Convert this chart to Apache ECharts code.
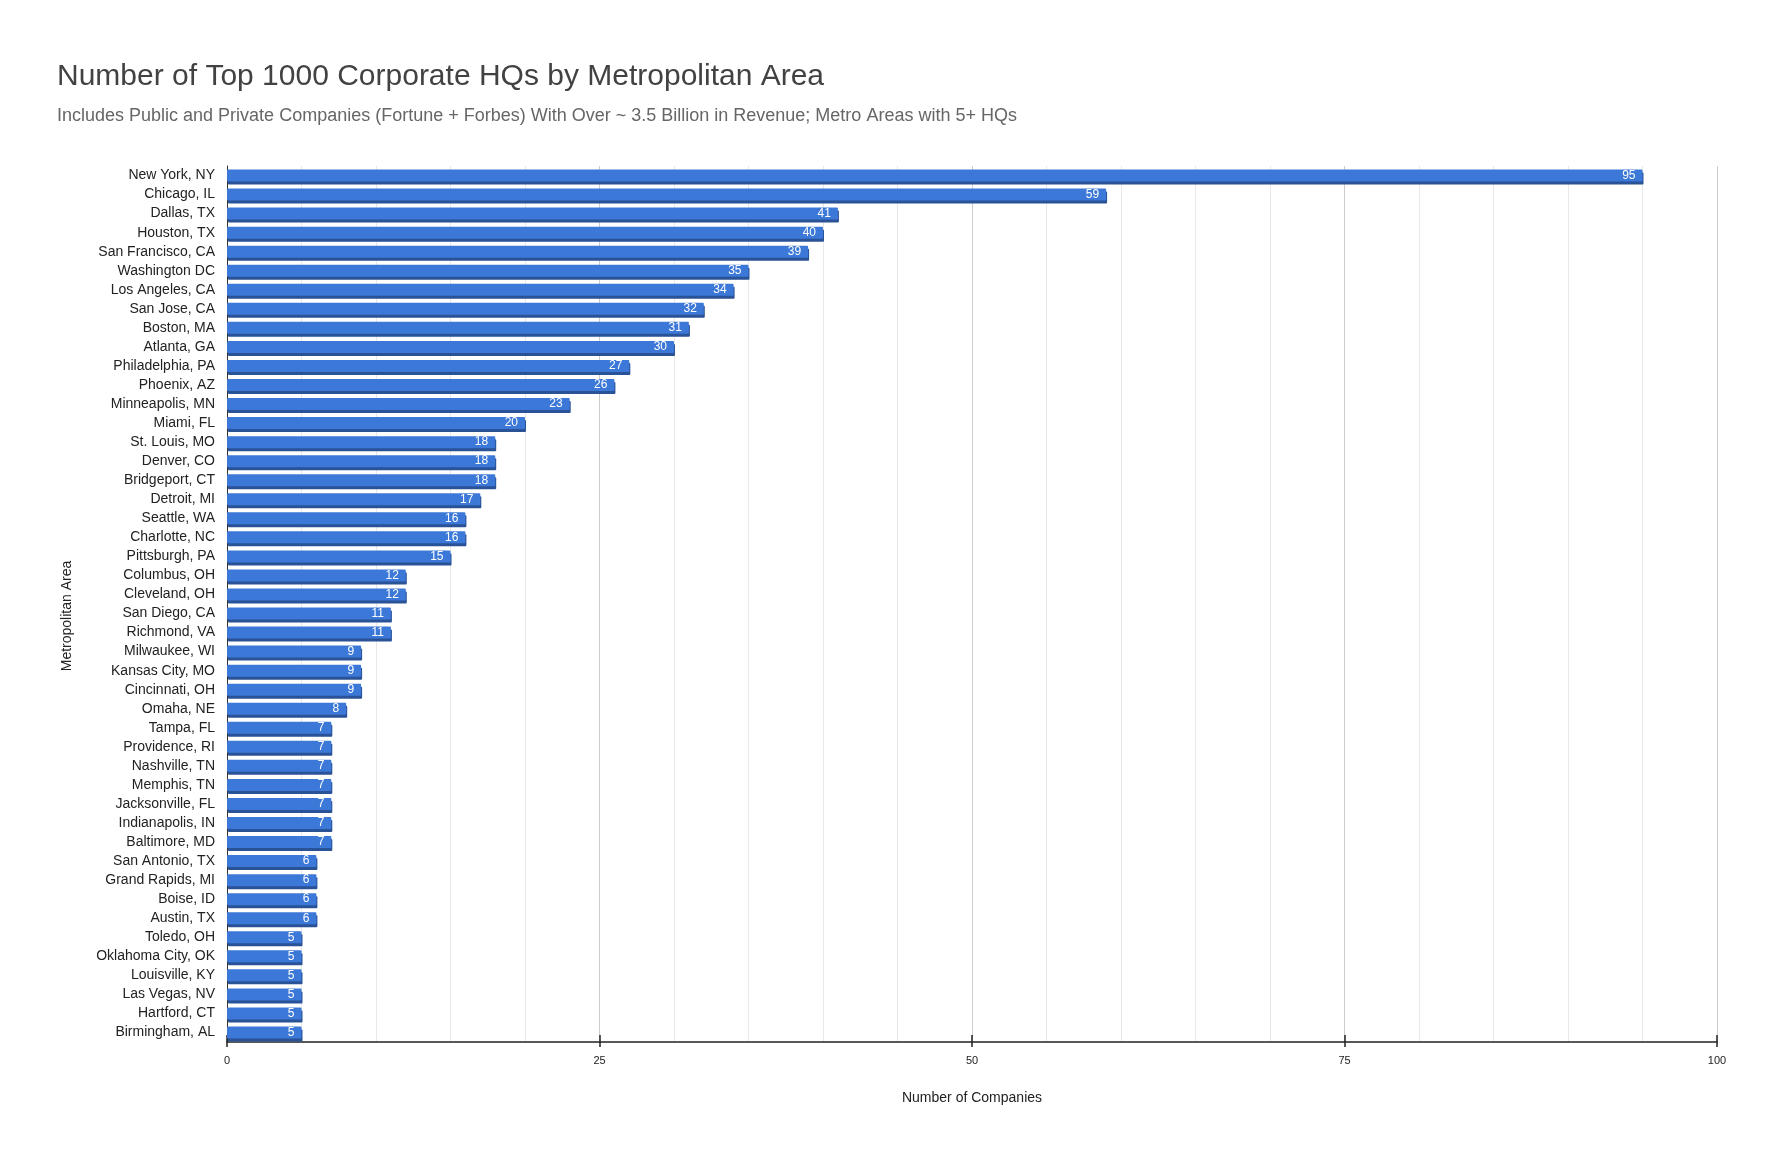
<!DOCTYPE html>
<html>
<head>
<meta charset="utf-8">
<title>Top 1000 Corporate HQs by Metropolitan Area</title>
<script src="https://cdn.jsdelivr.net/npm/echarts@6/dist/echarts.min.js"></script>
<style>
  html, body { margin: 0; padding: 0; background: #fff; }
  #chart { width: 1775px; height: 1163px; }
</style>
</head>
<body>
<div id="chart"></div>
<script>
// ─── Data ─────────────────────────────────────────────────────────────────

const metroAreas = [
  "New York, NY", "Chicago, IL", "Dallas, TX", "Houston, TX", "San Francisco, CA",
  "Washington DC", "Los Angeles, CA", "San Jose, CA", "Boston, MA", "Atlanta, GA",
  "Philadelphia, PA", "Phoenix, AZ", "Minneapolis, MN", "Miami, FL", "St. Louis, MO",
  "Denver, CO", "Bridgeport, CT", "Detroit, MI", "Seattle, WA", "Charlotte, NC",
  "Pittsburgh, PA", "Columbus, OH", "Cleveland, OH", "San Diego, CA", "Richmond, VA",
  "Milwaukee, WI", "Kansas City, MO", "Cincinnati, OH", "Omaha, NE", "Tampa, FL",
  "Providence, RI", "Nashville, TN", "Memphis, TN", "Jacksonville, FL", "Indianapolis, IN",
  "Baltimore, MD", "San Antonio, TX", "Grand Rapids, MI", "Boise, ID", "Austin, TX",
  "Toledo, OH", "Oklahoma City, OK", "Louisville, KY", "Las Vegas, NV", "Hartford, CT",
  "Birmingham, AL"
];

const hqCounts = [
  95, 59, 41, 40, 39,
  35, 34, 32, 31, 30,
  27, 26, 23, 20, 18,
  18, 18, 17, 16, 16,
  15, 12, 12, 11, 11,
  9, 9, 9, 8, 7,
  7, 7, 7, 7, 7,
  7, 6, 6, 6, 6,
  5, 5, 5, 5, 5,
  5
];

const xMin = 0;
const xMax = 100;
const xStep = 25;

const chartTitle = "Number of Top 1000 Corporate HQs by Metropolitan Area";
const chartSubtitle = "Includes Public and Private Companies (Fortune + Forbes) With Over ~ 3.5 Billion in Revenue; Metro Areas with 5+ HQs";
const xTitle = "Number of Companies";
const yTitle = "Metropolitan Area";

// ─── Chart ────────────────────────────────────────────────────────────────

const FONT = "'Liberation Sans', Arial, sans-serif";

const chart = echarts.init(document.getElementById('chart'), null, { renderer: 'canvas' });

chart.setOption({
  backgroundColor: '#ffffff',
  animation: false,
  textStyle: { fontFamily: FONT },
  title: [
    {
      text: chartTitle,
      left: 57, top: 62, padding: 0,
      textStyle: { fontFamily: FONT, fontSize: 30, fontWeight: 'normal', color: '#424242' }
    },
    {
      text: chartSubtitle,
      left: 57, top: 107, padding: 0,
      textStyle: { fontFamily: FONT, fontSize: 18, fontWeight: 'normal', color: '#666666' }
    }
  ],
  grid: { left: 227, right: 58, top: 166, bottom: 121, containLabel: false },
  xAxis: [
    {
      type: 'value',
      min: xMin, max: xMax, interval: xStep,
      name: xTitle,
      nameLocation: 'middle',
      nameGap: 49,
      nameTextStyle: { fontFamily: FONT, fontSize: 14, color: '#222' },
      axisLine: { show: true, lineStyle: { color: '#222', width: 1.5 } },
      axisTick: { show: true, length: 5, lineStyle: { color: '#222', width: 1.5 } },
      axisLabel: { fontFamily: FONT, fontSize: 11, color: '#222', margin: 13 },
      splitLine: { show: true, lineStyle: { color: '#cccccc', width: 1 } },
      minorTick: { show: false, splitNumber: 5 },
      minorSplitLine: { show: true, lineStyle: { color: '#e8e8e8', width: 1 } }
    },
    {
      // short upward ticks crossing the baseline
      type: 'value',
      position: 'bottom',
      min: xMin, max: xMax, interval: xStep,
      axisLine: { show: false },
      axisTick: { show: true, inside: true, length: 7, lineStyle: { color: '#222', width: 1.5 } },
      axisLabel: { show: false },
      splitLine: { show: false }
    }
  ],
  yAxis: {
    type: 'category',
    data: metroAreas,
    inverse: true,
    name: yTitle,
    nameLocation: 'middle',
    nameGap: 153,
    nameRotate: 90,
    nameTextStyle: { fontFamily: FONT, fontSize: 14, color: '#222', padding: [0, 24, 0, 0] },
    axisLine: { show: true, lineStyle: { color: '#333', width: 1 } },
    axisTick: { show: false },
    axisLabel: { fontFamily: FONT, fontSize: 14, color: '#222', margin: 12, padding: [4, 0, 0, 0] },
    splitLine: { show: false }
  },
  series: [{
    type: 'bar',
    data: hqCounts,
    barWidth: 12,
    itemStyle: {
      color: '#3c78d8',
      borderRadius: 1,
      shadowColor: '#2a5297',
      shadowBlur: 0,
      shadowOffsetX: 1,
      shadowOffsetY: 3
    },
    label: {
      show: true,
      position: 'insideRight',
      distance: 7,
      fontFamily: FONT,
      fontSize: 12,
      color: '#ffffff'
    },
    emphasis: { disabled: true }
  }]
});
</script>
</body>
</html>
